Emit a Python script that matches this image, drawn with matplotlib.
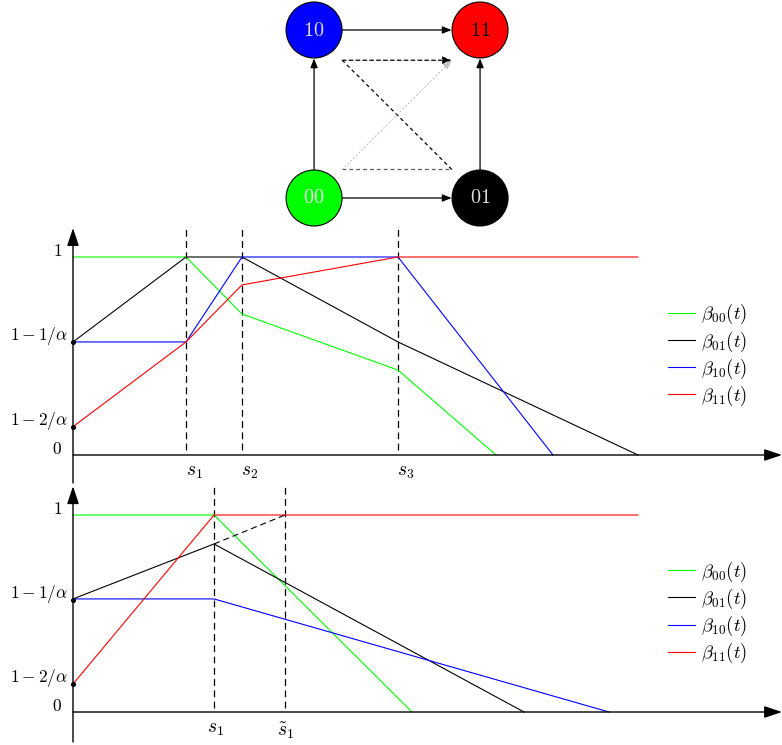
import matplotlib.pyplot as plt

plt.rcParams['mathtext.fontset'] = 'cm'
plt.rcParams['font.family'] = 'DejaVu Serif'

# state graph (top)
node_names = ['00', '01', '10', '11']
node_x = [0, 1, 0, 1]
node_y = [0, 0, 1, 1]
node_colors = ['#00ff00', 'black', 'blue', 'red']
node_text_colors = ['#eeeeee', '#dddddd', '#dddddd', 'black']
edges = [('00', '01'), ('00', '10'), ('10', '11'), ('01', '11')]
# dashed detour 00 -> 01 -> 10 -> 11 and dotted shortcut 00 -> 11
detour_x = [0.17, 0.83, 0.17, 0.83]
detour_y = [0.17, 0.17, 0.82, 0.82]

# y labels shared by both plots
tick_vals = [0.0, 0.143, 0.571, 1.0]
tick_labels = ['$0$', r'$1-2/\alpha$', r'$1-1/\alpha$', '$1$']
tick_label_x = [-0.11, -0.05, -0.05, -0.11]

# middle plot
mid_s = [1.13, 1.69, 3.25]
mid_s_labels = ['$s_1$', '$s_2$', '$s_3$']
mid_green_x = [0, 1.13, 1.69, 3.25, 4.23]
mid_green_y = [1.0, 1.0, 0.712, 0.429, 0.0]
mid_black_x = [0, 1.13, 1.69, 3.25, 5.65]
mid_black_y = [0.571, 1.0, 1.0, 0.571, 0.0]
mid_blue_x = [0, 1.13, 1.69, 3.25, 4.80]
mid_blue_y = [0.571, 0.571, 1.0, 1.0, 0.0]
mid_red_x = [0, 1.13, 1.69, 3.25, 5.65]
mid_red_y = [0.143, 0.571, 0.859, 1.0, 1.0]

# bottom plot
bot_s = [1.41, 2.12]
bot_s_labels = ['$s_1$', r'$\tilde{s}_1$']
bot_green_x = [0, 1.41, 3.39]
bot_green_y = [1.0, 1.0, 0.0]
bot_black_x = [0, 1.41, 4.51]
bot_black_y = [0.574, 0.853, 0.0]
bot_black_dash_x = [1.41, 2.12]
bot_black_dash_y = [0.853, 1.0]
bot_blue_x = [0, 1.41, 5.36]
bot_blue_y = [0.574, 0.574, 0.0]
bot_red_x = [0, 1.41, 5.65]
bot_red_y = [0.142, 1.0, 1.0]

legend_labels = [r'$\beta_{00}(t)$', r'$\beta_{01}(t)$', r'$\beta_{10}(t)$', r'$\beta_{11}(t)$']
line_colors = ['#00ff00', 'black', 'blue', 'red']

fig = plt.figure(figsize=(7.82, 7.45), dpi=100)

# ---- graph ----
ax0 = fig.add_axes([0, 1 - 228 / 745, 1, 228 / 745])
ax0.set_xlim(-1.892, 2.819)
ax0.set_ylim(-0.1786, 1.1786)
ax0.axis('off')
pos = {n: (x, y) for n, x, y in zip(node_names, node_x, node_y)}
head = '-|>,head_length=0.45,head_width=0.18'
for a, b in edges:
    ax0.annotate('', xy=pos[b], xytext=pos[a],
                 arrowprops=dict(arrowstyle=head, color='black', lw=0.9,
                                 shrinkA=20.5, shrinkB=20.5, mutation_scale=12))
ax0.plot(detour_x[:2], detour_y[:2], color='0.35', lw=0.9, ls=(0, (3, 2.5)))
ax0.plot(detour_x[1:3], detour_y[1:3], color='black', lw=0.9, ls=(0, (3, 2.5)))
ax0.annotate('', xy=(detour_x[3], detour_y[3]), xytext=(detour_x[2], detour_y[2]),
             arrowprops=dict(arrowstyle=head, color='black', lw=0.9, ls=(0, (3, 2.5)),
                             shrinkA=0, shrinkB=0, mutation_scale=12))
ax0.annotate('', xy=(detour_x[3], detour_y[3]), xytext=(detour_x[0], detour_y[0]),
             arrowprops=dict(arrowstyle=head, color='0.75', lw=0.8, ls=(0, (1, 2.5)),
                             shrinkA=0, shrinkB=0, mutation_scale=12))
ax0.scatter(node_x, node_y, s=1625, c=node_colors, edgecolors='black', linewidths=0.8, zorder=3)
for n, x, y, tc in zip(node_names, node_x, node_y, node_text_colors):
    ax0.text(x, y, '$%s$' % n, color=tc, fontsize=14.5, ha='center', va='center', zorder=4)


def draw_plot(ax, s_vals, s_labels, s_dx, series, dash_top, dash_bot, yaxis_bot):
    ax.axis('off')
    arrow = dict(arrowstyle='-|>,head_length=0.9,head_width=0.3', color='black',
                 lw=1.0, shrinkA=0, shrinkB=0, mutation_scale=12)
    ax.annotate('', xy=(7.09, 0), xytext=(0, 0), arrowprops=arrow)
    ax.annotate('', xy=(0, 1.146), xytext=(0, yaxis_bot), arrowprops=arrow)
    for s in s_vals:
        ax.plot([s, s], [dash_bot, dash_top], color='black', lw=0.9, ls=(0, (5.5, 3.5)))
    for s, lab in zip(s_vals, s_labels):
        ax.text(s + s_dx, -0.04, lab, fontsize=14, ha='center', va='top')
    for v, lab, lx in zip(tick_vals, tick_labels, tick_label_x):
        ax.text(lx, v + 0.03, lab, fontsize=12.5, ha='right', va='center')
    handles = []
    for (xs, ys), col, lab in zip(series, line_colors, legend_labels):
        h, = ax.plot(xs, ys, color=col, lw=0.8, label=lab)
        handles.append(h)
    ax.scatter([0, 0], [tick_vals[1], tick_vals[2]], s=7, color='black', zorder=5)
    ax.legend(handles=handles, loc='center left', bbox_to_anchor=(0.833, 0.5),
              frameon=False, fontsize=13.5, handlelength=1.4, handletextpad=0.35,
              labelspacing=0.16)
    return ax


ax1 = fig.add_axes([0, 1 - 488 / 745, 1, 266 / 745])
ax1.set_xlim(-0.73, 7.09)
ax1.set_ylim(-0.1667, 1.1768)
draw_plot(ax1, mid_s, mid_s_labels, 0.08,
          [(mid_green_x, mid_green_y), (mid_black_x, mid_black_y),
           (mid_blue_x, mid_blue_y), (mid_red_x, mid_red_y)],
          1.146, 0.025, -0.141)

ax2 = fig.add_axes([0, 0, 1, 265 / 745])
ax2.set_xlim(-0.73, 7.09)
ax2.set_ylim(-0.1675, 1.1777)
draw_plot(ax2, bot_s, bot_s_labels, 0.01,
          [(bot_green_x, bot_green_y), (bot_black_x, bot_black_y),
           (bot_blue_x, bot_blue_y), (bot_red_x, bot_red_y)],
          1.147, 0.02, -0.152)
ax2.plot(bot_black_dash_x, bot_black_dash_y, color='black', lw=0.8, ls=(0, (5.5, 3.5)))

fig.savefig('out.png', dpi=100)
